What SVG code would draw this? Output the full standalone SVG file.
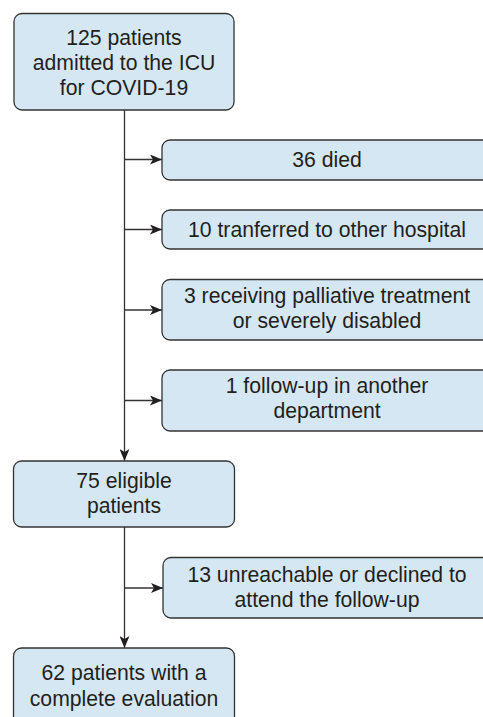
<svg xmlns="http://www.w3.org/2000/svg" width="483" height="717" viewBox="0 0 483 717">
<defs>
<style>
.box{fill:#d5e7f3;stroke:#333;stroke-width:1.3}
.t{font-family:"Liberation Sans",Arial,sans-serif;font-size:21.2px;fill:#231f20;text-anchor:middle}
.c{stroke:#333;stroke-width:1.3;fill:none}
</style>
<marker id="ah" viewBox="0 0 12 10" refX="12" refY="5" markerWidth="12" markerHeight="10" markerUnits="userSpaceOnUse" orient="auto">
<path d="M0,0 L12,5 L0,10 L3,5 Z" fill="#231f20"/>
</marker>
</defs>
<rect width="483" height="717" fill="#fff"/>
<g id="connectors">
<line class="c" x1="124.5" y1="110" x2="124.5" y2="461" marker-end="url(#ah)"/>
<line class="c" x1="124.5" y1="159.5" x2="162" y2="159.5" marker-end="url(#ah)"/>
<line class="c" x1="124.5" y1="229.5" x2="162" y2="229.5" marker-end="url(#ah)"/>
<line class="c" x1="124.5" y1="310" x2="162" y2="310" marker-end="url(#ah)"/>
<line class="c" x1="124.5" y1="400.5" x2="162" y2="400.5" marker-end="url(#ah)"/>
<line class="c" x1="124.5" y1="527" x2="124.5" y2="648" marker-end="url(#ah)"/>
<line class="c" x1="124.5" y1="588" x2="163" y2="588" marker-end="url(#ah)"/>
</g>
<g id="n1">
<rect class="box" x="14" y="13.5" width="220" height="96.5" rx="8"/>
<text class="t" x="124" y="45">125 patients</text>
<text class="t" x="124" y="70">admitted to the ICU</text>
<text class="t" x="124" y="95">for COVID-19</text>
</g>
<g id="n2">
<rect class="box" x="162" y="140" width="332" height="40" rx="8"/>
<text class="t" x="327" y="167">36 died</text>
</g>
<g id="n3">
<rect class="box" x="162" y="210" width="332" height="39" rx="8"/>
<text class="t" x="327" y="237">10 tranferred to other hospital</text>
</g>
<g id="n4">
<rect class="box" x="162" y="279.5" width="332" height="60.5" rx="8"/>
<text class="t" x="327" y="303">3 receiving palliative treatment</text>
<text class="t" x="327" y="328">or severely disabled</text>
</g>
<g id="n5">
<rect class="box" x="162" y="370" width="332" height="61" rx="8"/>
<text class="t" x="327" y="393">1 follow-up in another</text>
<text class="t" x="327" y="418">department</text>
</g>
<g id="n6">
<rect class="box" x="13.5" y="461" width="221" height="66" rx="8"/>
<text class="t" x="124" y="488">75 eligible</text>
<text class="t" x="124" y="513">patients</text>
</g>
<g id="n7">
<rect class="box" x="163" y="557.5" width="331" height="60.5" rx="8"/>
<text class="t" x="327" y="582">13 unreachable or declined to</text>
<text class="t" x="327" y="607">attend the follow-up</text>
</g>
<g id="n8">
<rect class="box" x="13.5" y="648" width="221" height="80" rx="8"/>
<text class="t" x="124" y="680">62 patients with a</text>
<text class="t" x="124" y="706">complete evaluation</text>
</g>
</svg>
